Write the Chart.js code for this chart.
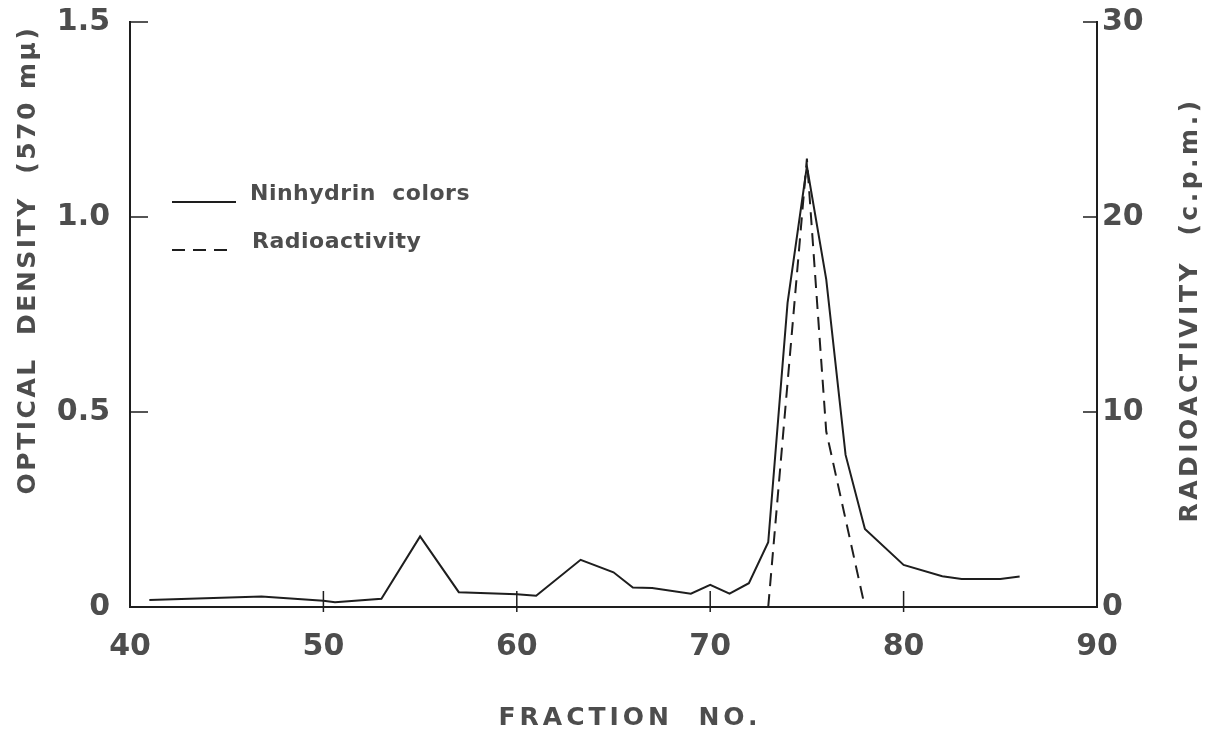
<!DOCTYPE html>
<html>
<head>
<meta charset="utf-8">
<script src="https://cdn.jsdelivr.net/npm/chart.js@4/dist/chart.umd.min.js"></script>
<style>
  body { margin: 0; background: #fff; }
  #chart { display: block; }
</style>
</head>
<body>
<canvas id="chart" width="1208" height="733"></canvas>
<script>
// Ninhydrin colour readings (optical density at 570 mμ) per fraction.
const ninFractions = [41, 46.8, 50, 50.6, 53, 55, 57, 60, 61, 63.3, 65, 66, 67, 69, 70, 71, 72, 73, 74, 75, 76, 77, 78, 80, 82, 83, 85, 86];
const ninhydrin = [0.018, 0.027, 0.016, 0.012, 0.021, 0.181, 0.038, 0.033, 0.029, 0.121, 0.089, 0.05, 0.049, 0.034, 0.057, 0.034, 0.061, 0.166, 0.78, 1.13, 0.84, 0.39, 0.2, 0.108, 0.079, 0.072, 0.072, 0.078];

// Radioactivity (c.p.m.) of the peak fractions.
const radFractions = [73, 74, 75, 76, 77, 78];
const radioactivity = [0, 11.5, 23, 9, 4.5, 0];

const xTicks = [40, 50, 60, 70, 80, 90];
const odTicks = [0, 0.5, 1.0, 1.5];
const cpmTicks = [0, 10, 20, 30];

const ink = "#1e1e1e";
const textInk = "#4d4d4d";
const fontFamily = "'DejaVu Sans', sans-serif";

function toPoints(xs, ys) {
  return xs.map((x, i) => ({ x: x, y: ys[i] }));
}

// fixed box sizes so the plot frame sits where it should
function fixBox(size) {
  return (s) => {
    if (s.isHorizontal()) s.height = size;
    else s.width = size;
    s.paddingTop = 0;
    s.paddingBottom = 0;
    s.paddingLeft = 0;
    s.paddingRight = 0;
  };
}

// inward tick marks, axis titles and the small key
const decorations = {
  id: "decorations",
  afterDraw(chart) {
    const ctx = chart.ctx;
    const area = chart.chartArea;
    const xs = chart.scales.x, yl = chart.scales.y, yr = chart.scales.y2;
    ctx.save();
    ctx.strokeStyle = ink;
    ctx.lineWidth = 1.5;
    ctx.beginPath();
    odTicks.forEach((v) => {
      if (v === 0) return;
      const py = yl.getPixelForValue(v);
      ctx.moveTo(area.left, py);
      ctx.lineTo(area.left + 18, py);
    });
    cpmTicks.forEach((v) => {
      if (v === 0) return;
      const py = yr.getPixelForValue(v);
      ctx.moveTo(area.right, py);
      ctx.lineTo(area.right - 14, py);
    });
    xTicks.forEach((v) => {
      if (v === 40 || v === 90) return;
      const px = xs.getPixelForValue(v);
      ctx.moveTo(px, area.bottom - 16);
      ctx.lineTo(px, area.bottom + 5);
    });
    ctx.stroke();

    // axis titles
    ctx.fillStyle = textInk;
    ctx.textAlign = "center";
    ctx.textBaseline = "middle";
    ctx.font = "bold 25px " + fontFamily;
    ctx.letterSpacing = "4px";
    ctx.fillText("FRACTION  NO.", 630, 718);

    ctx.letterSpacing = "2.5px";
    ctx.save();
    ctx.translate(28, 260);
    ctx.rotate(-Math.PI / 2);
    ctx.fillText("OPTICAL  DENSITY  (570 mμ)", 0, 0);
    ctx.restore();

    ctx.letterSpacing = "3.5px";
    ctx.save();
    ctx.translate(1190, 310);
    ctx.rotate(-Math.PI / 2);
    ctx.fillText("RADIOACTIVITY  (c.p.m.)", 0, 0);
    ctx.restore();

    // key
    ctx.strokeStyle = ink;
    ctx.lineWidth = 2;
    ctx.beginPath();
    ctx.moveTo(172, 202);
    ctx.lineTo(236, 202);
    ctx.stroke();
    ctx.setLineDash([13, 8]);
    ctx.beginPath();
    ctx.moveTo(172, 250);
    ctx.lineTo(234, 250);
    ctx.stroke();
    ctx.setLineDash([]);

    ctx.textAlign = "left";
    ctx.font = "bold 22px " + fontFamily;
    ctx.letterSpacing = "0.5px";
    ctx.fillText("Ninhydrin  colors", 250, 194);
    ctx.fillText("Radioactivity", 252, 242);
    ctx.restore();
  }
};

new Chart(document.getElementById("chart"), {
  type: "line",
  data: {
    datasets: [
      {
        label: "Ninhydrin colors",
        data: toPoints(ninFractions, ninhydrin),
        yAxisID: "y",
        borderColor: ink,
        borderWidth: 2,
        pointRadius: 0,
        tension: 0,
        fill: false
      },
      {
        label: "Radioactivity",
        data: toPoints(radFractions, radioactivity),
        yAxisID: "y2",
        borderColor: ink,
        borderWidth: 2,
        borderDash: [13, 8],
        pointRadius: 0,
        tension: 0,
        fill: false
      }
    ]
  },
  options: {
    responsive: false,
    animation: false,
    layout: { padding: { top: 22, left: 0, right: 0, bottom: 0 } },
    plugins: {
      legend: { display: false },
      tooltip: { enabled: false }
    },
    scales: {
      x: {
        type: "linear",
        min: 40,
        max: 90,
        afterBuildTicks: (s) => { s.ticks = xTicks.map((v) => ({ value: v })); },
        afterFit: fixBox(126),
        ticks: {
          color: textInk,
          font: { family: fontFamily, size: 30, weight: "bold" },
          padding: 22,
          maxRotation: 0
        },
        grid: { drawOnChartArea: false, drawTicks: false },
        border: { color: ink, width: 2 }
      },
      y: {
        position: "left",
        min: 0,
        max: 1.5,
        afterBuildTicks: (s) => { s.ticks = odTicks.map((v) => ({ value: v })); },
        afterFit: fixBox(130),
        ticks: {
          color: textInk,
          font: { family: fontFamily, size: 30, weight: "bold" },
          padding: 20,
          callback: (v) => (v === 0 ? "0" : v.toFixed(1))
        },
        grid: { drawOnChartArea: false, drawTicks: false },
        border: { color: ink, width: 2 }
      },
      y2: {
        position: "right",
        min: 0,
        max: 30,
        afterBuildTicks: (s) => { s.ticks = cpmTicks.map((v) => ({ value: v })); },
        afterFit: fixBox(111),
        ticks: {
          color: textInk,
          font: { family: fontFamily, size: 30, weight: "bold" },
          padding: 5
        },
        grid: { drawOnChartArea: false, drawTicks: false },
        border: { color: ink, width: 2 }
      }
    }
  },
  plugins: [decorations]
});
</script>
</body>
</html>
